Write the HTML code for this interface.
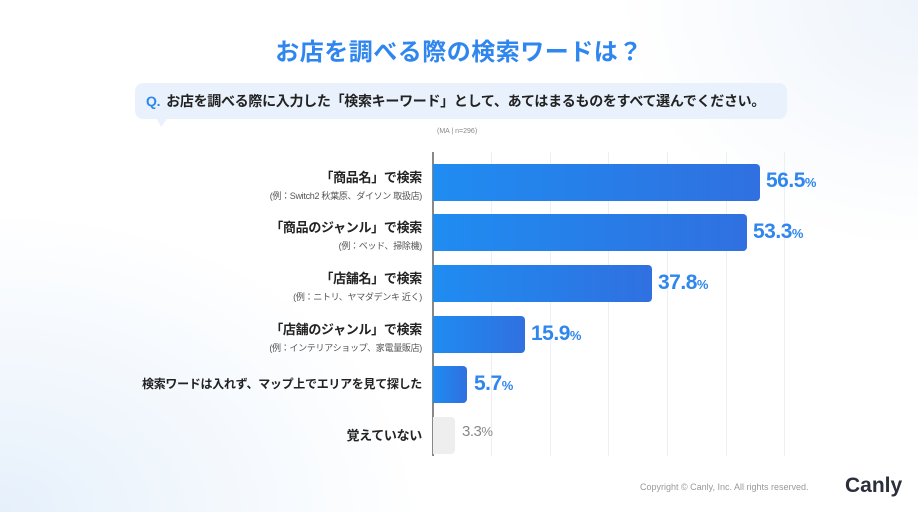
<!DOCTYPE html>
<html><head><meta charset="utf-8"><style>
*{margin:0;padding:0;box-sizing:border-box}
body{width:918px;height:512px;overflow:hidden;position:relative;font-family:"Liberation Sans","Noto Sans CJK JP",sans-serif;background:radial-gradient(ellipse 420px 300px at 0% 100%,#e6f0fb 0%,rgba(255,255,255,0) 100%),radial-gradient(ellipse 300px 250px at 100% 0%,#eef4fb 0%,rgba(255,255,255,0) 100%),#fff}
.t{position:absolute;left:0;width:918px;top:32px;text-align:center;font-size:24px;font-weight:bold;color:#2f86ee;letter-spacing:0.5px}
.q{position:absolute;left:135px;top:83px;width:652px;height:36px;background:#e9f2fc;border-radius:8px;font-size:14px;color:#222;font-weight:bold;line-height:36px;padding-left:11px;letter-spacing:-0.3px}
.q b{color:#2f86ee;margin-right:6px}
.q:after{content:"";position:absolute;left:22px;bottom:-8px;border-left:4px solid transparent;border-right:6px solid transparent;border-top:8px solid #e9f2fc}
.n{position:absolute;left:437px;top:128px;font-size:7px;color:#888}
.ax{position:absolute;left:432px;top:152px;width:1.5px;height:304px;background:#888}
.g{position:absolute;top:152px;width:1px;height:304px;background:#eceff3}
.bar{position:absolute;left:433px;height:37px;border-radius:0 4px 4px 0;background:linear-gradient(90deg,#1f8cf1,#3070e0)}
.v{position:absolute;font-size:21px;font-weight:bold;color:#2f86ee;letter-spacing:-0.5px}
.v small{font-size:13px}
.l{position:absolute;right:496px;text-align:right;color:#222;font-weight:bold;font-size:13px;white-space:nowrap;letter-spacing:-0.3px}
.l span{display:block;font-size:9px;font-weight:normal;color:#555;margin-top:3px;letter-spacing:-0.3px}
</style></head><body>
<div class="t">お店を調べる際の検索ワードは？</div>
<div class="q"><b>Q.</b>お店を調べる際に入力した「検索キーワード」として、あてはまるものをすべて選んでください。</div>
<div class="n">(MA | n=296)</div>
<div class="g" style="left:491px"></div><div class="g" style="left:550px"></div><div class="g" style="left:608px"></div><div class="g" style="left:667px"></div><div class="g" style="left:726px"></div><div class="g" style="left:784px"></div>
<div class="ax"></div>
<div class="bar" style="top:164px;width:327px"></div>
<div class="bar" style="top:214px;width:314px"></div>
<div class="bar" style="top:265px;width:219px"></div>
<div class="bar" style="top:316px;width:92px"></div>
<div class="bar" style="top:366px;width:34px"></div>
<div class="bar" style="top:417px;width:22px;background:#eeeeee"></div>
<div class="v" style="left:766px;top:169px">56.5<small>%</small></div>
<div class="v" style="left:753px;top:220px">53.3<small>%</small></div>
<div class="v" style="left:658px;top:271px">37.8<small>%</small></div>
<div class="v" style="left:531px;top:322px">15.9<small>%</small></div>
<div class="v" style="left:474px;top:372px">5.7<small>%</small></div>
<div class="v" style="left:462px;top:423px;font-weight:normal;font-size:15px;color:#888">3.3<small>%</small></div>
<div class="l" style="top:167px">「商品名」で検索<span>(例：Switch2 秋葉原、ダイソン 取扱店)</span></div>
<div class="l" style="top:217px">「商品のジャンル」で検索<span>(例：ベッド、掃除機)</span></div>
<div class="l" style="top:268px">「店舗名」で検索<span>(例：ニトリ、ヤマダデンキ 近く)</span></div>
<div class="l" style="top:319px">「店舗のジャンル」で検索<span>(例：インテリアショップ、家電量販店)</span></div>
<div class="l" style="top:375px;font-size:12px">検索ワードは入れず、マップ上でエリアを見て探した</div>
<div class="l" style="top:425px">覚えていない</div>
<div style="position:absolute;left:640px;top:482px;font-size:9px;color:#999">Copyright © Canly, Inc. All rights reserved.</div>
<div style="position:absolute;left:845px;top:474px;font-size:21px;font-weight:bold;color:#2a2f3a">Canly</div>
</body></html>
